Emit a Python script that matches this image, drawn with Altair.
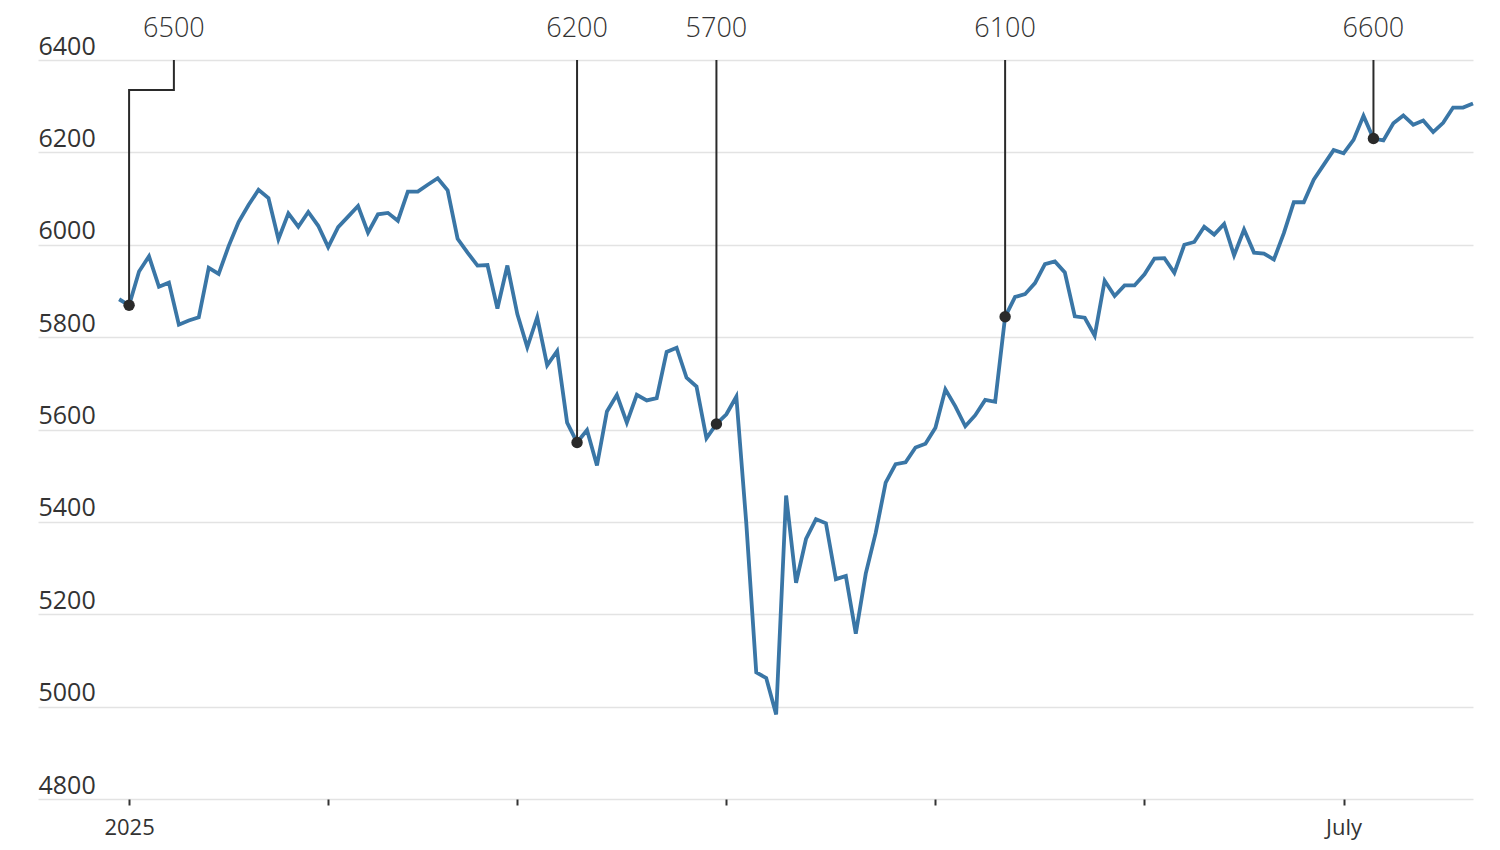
import altair as alt
import pandas as pd

# Trading days shown (Dec 31 2024 .. Jul 21 2025) and closing values
trading_days = [
    "2024-12-31",
    "2025-01-02", "2025-01-03", "2025-01-06", "2025-01-07", "2025-01-08", "2025-01-10",
    "2025-01-13", "2025-01-14", "2025-01-15", "2025-01-16", "2025-01-17", "2025-01-21",
    "2025-01-22", "2025-01-23", "2025-01-24", "2025-01-27", "2025-01-28", "2025-01-29",
    "2025-01-30", "2025-01-31",
    "2025-02-03", "2025-02-04", "2025-02-05", "2025-02-06", "2025-02-07", "2025-02-10",
    "2025-02-11", "2025-02-12", "2025-02-13", "2025-02-14", "2025-02-18", "2025-02-19",
    "2025-02-20", "2025-02-21", "2025-02-24", "2025-02-25", "2025-02-26", "2025-02-27",
    "2025-02-28",
    "2025-03-03", "2025-03-04", "2025-03-05", "2025-03-06", "2025-03-07", "2025-03-10",
    "2025-03-11", "2025-03-12", "2025-03-13", "2025-03-14", "2025-03-17", "2025-03-18",
    "2025-03-19", "2025-03-20", "2025-03-21", "2025-03-24", "2025-03-25", "2025-03-26",
    "2025-03-27", "2025-03-28", "2025-03-31",
    "2025-04-01", "2025-04-02", "2025-04-03", "2025-04-04", "2025-04-07", "2025-04-08",
    "2025-04-09", "2025-04-10", "2025-04-11", "2025-04-14", "2025-04-15", "2025-04-16",
    "2025-04-17", "2025-04-21", "2025-04-22", "2025-04-23", "2025-04-24", "2025-04-25",
    "2025-04-28", "2025-04-29", "2025-04-30",
    "2025-05-01", "2025-05-02", "2025-05-05", "2025-05-06", "2025-05-07", "2025-05-08",
    "2025-05-09", "2025-05-12", "2025-05-13", "2025-05-14", "2025-05-15", "2025-05-16",
    "2025-05-19", "2025-05-20", "2025-05-21", "2025-05-22", "2025-05-23", "2025-05-27",
    "2025-05-28", "2025-05-29", "2025-05-30",
    "2025-06-02", "2025-06-03", "2025-06-04", "2025-06-05", "2025-06-06", "2025-06-09",
    "2025-06-10", "2025-06-11", "2025-06-12", "2025-06-13", "2025-06-16", "2025-06-17",
    "2025-06-18", "2025-06-20", "2025-06-23", "2025-06-24", "2025-06-25", "2025-06-26",
    "2025-06-27", "2025-06-30",
    "2025-07-01", "2025-07-02", "2025-07-03", "2025-07-07", "2025-07-08", "2025-07-09",
    "2025-07-10", "2025-07-11", "2025-07-14", "2025-07-15", "2025-07-16", "2025-07-17",
    "2025-07-18", "2025-07-21",
]

closes = [
    5882,
    5869, 5942, 5975, 5909, 5918, 5827, 5836, 5843, 5950, 5937, 5997, 6049,
    6086, 6119, 6101, 6012, 6068, 6039, 6071, 6041,
    5995, 6038, 6061, 6084, 6026, 6066, 6069, 6052, 6115, 6115, 6130, 6144,
    6118, 6013, 5983, 5955, 5956, 5862, 5955,
    5850, 5778, 5843, 5739, 5770, 5615, 5572, 5599, 5522, 5639, 5675, 5615,
    5675, 5663, 5668, 5768, 5777, 5712, 5693, 5581, 5612,
    5633, 5671, 5397, 5074, 5062, 4983, 5457, 5268, 5363, 5406, 5397, 5276,
    5283, 5158, 5288, 5376, 5485, 5525, 5529, 5561, 5569,
    5604, 5687, 5650, 5607, 5631, 5664, 5660, 5844, 5887, 5893, 5917, 5958,
    5964, 5940, 5845, 5842, 5803, 5922, 5889, 5912, 5912,
    5936, 5970, 5971, 5939, 6000, 6006, 6039, 6022, 6045, 5977, 6033, 5983,
    5981, 5968, 6025, 6092, 6092, 6141, 6173, 6205,
    6198, 6227, 6279, 6230, 6226, 6263, 6280, 6260, 6269, 6244, 6264, 6297,
    6297, 6306,
]

# Forecast annotations
ann_dates = ["2025-01-02", "2025-03-11", "2025-03-31", "2025-05-12", "2025-07-07"]
ann_labels = ["6500", "6200", "5700", "6100", "6600"]
ann_label_shift = [4.5, 0, 0, 0, 0]   # label offset, in trading days

# Axis ticks (first trading day of each month)
tick_dates = ["2025-01-02", "2025-02-03", "2025-03-03", "2025-04-01",
              "2025-05-01", "2025-06-02", "2025-07-01"]
tick_labels = ["2025", "", "", "", "", "", "July"]
y_ticks = [4800, 5000, 5200, 5400, 5600, 5800, 6000, 6200, 6400]

Y_TOP = 6400
ELBOW_Y = 6335

df = pd.DataFrame({"idx": list(range(len(trading_days))),
                   "date": trading_days, "close": closes})

ann_idx = [trading_days.index(d) for d in ann_dates]
ann_val = [closes[i] for i in ann_idx]
ann = pd.DataFrame({"idx": ann_idx, "close": ann_val, "label": ann_labels,
                    "label_idx": [i + s for i, s in zip(ann_idx, ann_label_shift)]})

path_rows = []
for i, v, lab, lx in zip(ann_idx, ann_val, ann_labels, ann["label_idx"]):
    path_rows += [
        {"label": lab, "step": 0, "idx": lx, "val": Y_TOP},
        {"label": lab, "step": 1, "idx": lx, "val": ELBOW_Y},
        {"label": lab, "step": 2, "idx": i, "val": ELBOW_Y},
        {"label": lab, "step": 3, "idx": i, "val": v},
    ]
paths = pd.DataFrame(path_rows)

tick_idx = [trading_days.index(d) for d in tick_dates]
label_expr = " : ".join(
    [f"datum.value == {i} ? '{l}'" for i, l in zip(tick_idx, tick_labels)]) + " : ''"

x_scale = alt.Scale(domain=[-8.15, 136], nice=False, zero=False)
y_scale = alt.Scale(domain=[4800, 6400], nice=False, zero=False)

x_enc = alt.X("idx:Q", scale=x_scale, axis=alt.Axis(
    values=tick_idx, labelExpr=label_expr, title=None, grid=False, domain=False,
    ticks=True, tickSize=6, tickWidth=2, tickColor="#333333",
    labelFontSize=22, labelColor="#333333", labelFont="Open Sans", labelPadding=12))
y_enc = alt.Y("close:Q", scale=y_scale, axis=alt.Axis(
    values=y_ticks, title=None, domain=False, ticks=False, tickSize=0,
    labelAlign="left", labelBaseline="alphabetic", labelPadding=0, labelOffset=-6,
    labelFontSize=25, labelColor="#333333", labelFont="Open Sans",
    grid=True, gridColor="#e3e3e3", gridWidth=1.5, format="d"))

line = alt.Chart(df).mark_line(color="#3a76a6", strokeWidth=3.8,
                               strokeJoin="miter").encode(x=x_enc, y=y_enc)

leaders = alt.Chart(paths).mark_line(color="#2a2a2a", strokeWidth=2,
                                     strokeJoin="miter").encode(
    x=alt.X("idx:Q", scale=x_scale),
    y=alt.Y("val:Q", scale=y_scale),
    detail="label:N",
    order="step:Q",
)

dots = alt.Chart(ann).mark_circle(color="#2a2a2a", opacity=1, size=130).encode(
    x=alt.X("idx:Q", scale=x_scale),
    y=alt.Y("close:Q", scale=y_scale),
)

labels = alt.Chart(ann).mark_text(
    fontSize=27, font="Open Sans", fontWeight=300, color="#333333",
    align="center", baseline="alphabetic").encode(
    x=alt.X("label_idx:Q", scale=x_scale),
    y=alt.value(-23),
    text="label:N",
)

chart = alt.layer(line, leaders, dots, labels).properties(
    width=1435, height=739,
    autosize=alt.AutoSizeParams(type="none"),
    padding={"left": 30, "top": 52, "right": 19, "bottom": 43},
    background="white",
).configure_view(stroke=None)

chart.save("out.html", embed_options={"renderer": "svg", "actions": False})
